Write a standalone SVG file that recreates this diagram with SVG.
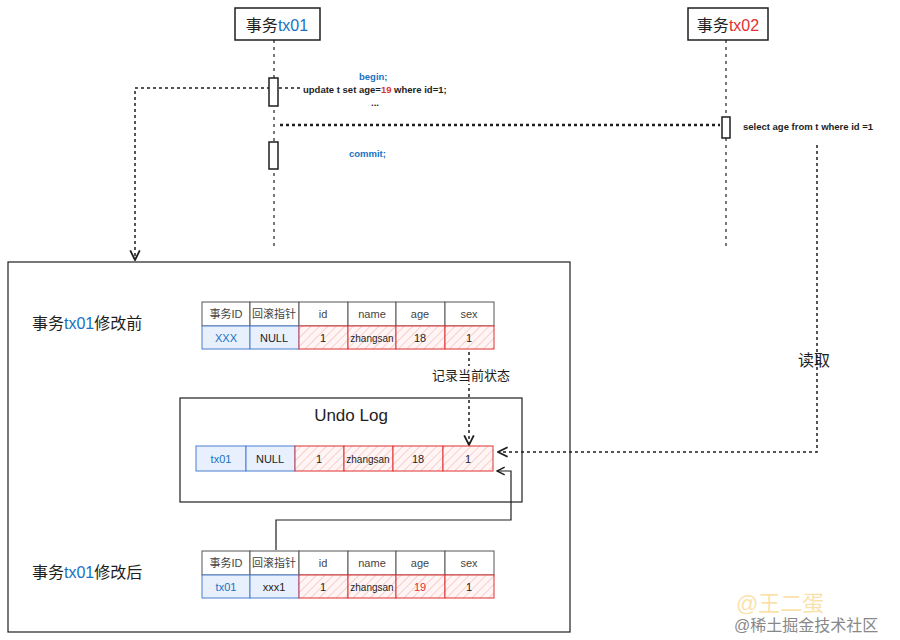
<svg xmlns="http://www.w3.org/2000/svg" width="900" height="640" viewBox="0 0 900 640">
<defs>
<pattern id="hatch" patternUnits="userSpaceOnUse" width="6" height="6" patternTransform="rotate(45)">
<rect width="6" height="6" fill="#fff5f5"/>
<line x1="0" y1="0" x2="0" y2="6" stroke="#f2a7a7" stroke-width="1"/>
</pattern>
<marker id="arr" viewBox="0 0 10 10" refX="9" refY="5" markerWidth="8" markerHeight="8" orient="auto-start-reverse">
<path d="M1,1 L9,5 L1,9" fill="none" stroke="#1e1e1e" stroke-width="1.5"/>
</marker>
</defs>
<style>
text{font-family:"Liberation Sans","Noto Sans CJK SC",sans-serif;fill:#1e1e1e}
.t{font-size:11px;text-anchor:middle}
.z{font-size:10px}
.h{fill:#444}
.hd{fill:#fff;stroke:#555;stroke-width:1}
.bl{fill:#e7f0fc;stroke:#4a7fd0;stroke-width:1}
.rd{fill:url(#hatch);stroke:#e03131;stroke-width:1}
.blue{fill:#1971c2}
.red{fill:#e03131}
.dash{fill:none;stroke:#1e1e1e;stroke-width:1.5;stroke-dasharray:3 3}
.dots{fill:none;stroke:#1e1e1e;stroke-width:2.5;stroke-dasharray:3 3}
.life{fill:none;stroke:#1e1e1e;stroke-width:1.2;stroke-dasharray:3 4}
.box{fill:#fff;stroke:#1e1e1e;stroke-width:1.5}
.lbl{font-size:16px}
.code{font-size:9.5px;font-weight:bold}
</style>

<g id="tx01">
<rect class="box" x="235" y="8" width="85" height="32" stroke-width="2"/>
<text x="277" y="31" font-size="16" text-anchor="middle">事务<tspan class="blue">tx01</tspan></text>
</g>
<g id="tx02">
<rect class="box" x="688" y="8" width="80" height="32" stroke-width="2"/>
<text x="728" y="31" font-size="16" text-anchor="middle">事务<tspan class="red">tx02</tspan></text>
</g>

<g id="connectors">
<path class="life" d="M274,40 V250"/>
<path class="life" d="M726,40 V250"/>
<path class="dash" d="M300,88 H135 V260" marker-end="url(#arr)"/>
<path class="dots" d="M280,125 H720"/>
<path class="dash" d="M817,145 V452 H498" marker-end="url(#arr)"/>
<path class="dash" d="M469,352 V445" marker-end="url(#arr)"/>
<path fill="none" stroke="#1e1e1e" stroke-width="1.2" d="M276,550 V520 H511 V471 H497" marker-end="url(#arr)"/>
</g>

<g id="activations">
<rect class="box" x="269" y="78" width="9" height="28" stroke-width="1.2"/>
<rect class="box" x="269" y="142" width="9" height="27" stroke-width="1.2"/>
<rect class="box" x="722" y="117" width="8" height="21" stroke-width="1.2"/>
</g>

<g id="code">
<text class="code blue" x="359" y="80">begin;</text>
<text class="code" x="303" y="93">update t set  age=<tspan class="red">19</tspan> where id=1;</text>
<text class="code" x="371" y="106">...</text>
<text class="code blue" x="349" y="157">commit;</text>
<text class="code" x="743" y="130">select age from t where id =1</text>
</g>

<g id="mainbox">
<rect x="8" y="262" width="562" height="370" fill="none" stroke="#1e1e1e" stroke-width="1.2"/>
</g>

<g id="readlabel"><text class="lbl" x="798" y="366">读取</text></g>

<g id="before">
<text class="lbl" x="32" y="329">事务<tspan class="blue">tx01</tspan>修改前</text>
<rect class="hd" x="202" y="302" width="48" height="24"/>
<rect class="hd" x="250" y="302" width="49" height="24"/>
<rect class="hd" x="299" y="302" width="49" height="24"/>
<rect class="hd" x="348" y="302" width="48" height="24"/>
<rect class="hd" x="396" y="302" width="49" height="24"/>
<rect class="hd" x="445" y="302" width="49" height="24"/>
<rect class="bl" x="202" y="326" width="48" height="23"/>
<rect class="bl" x="250" y="326" width="49" height="23"/>
<rect class="rd" x="299" y="326" width="49" height="23"/>
<rect class="rd" x="348" y="326" width="48" height="23"/>
<rect class="rd" x="396" y="326" width="49" height="23"/>
<rect class="rd" x="445" y="326" width="49" height="23"/>
<text class="t h" x="226" y="318">事务ID</text>
<text class="t h" x="274" y="318">回滚指针</text>
<text class="t h" x="323" y="318">id</text>
<text class="t h" x="372" y="318">name</text>
<text class="t h" x="420" y="318">age</text>
<text class="t h" x="469" y="318">sex</text>
<text class="t blue" x="226" y="342">XXX</text>
<text class="t" x="274" y="342">NULL</text>
<text class="t" x="323" y="342">1</text>
<text class="t z" x="372" y="342">zhangsan</text>
<text class="t" x="420" y="342">18</text>
<text class="t" x="469" y="342">1</text>
</g>

<g id="recordlabel">
<rect x="430" y="366" width="82" height="18" fill="#fff"/>
<text x="471" y="380" font-size="13" text-anchor="middle">记录当前状态</text>
</g>

<g id="undolog">
<rect x="180" y="398" width="342" height="104" fill="none" stroke="#1e1e1e" stroke-width="1.2"/>
<text x="351" y="421" font-size="17" text-anchor="middle">Undo Log</text>
<rect class="bl" x="196" y="446" width="50" height="25"/>
<rect class="bl" x="246" y="446" width="49" height="25"/>
<rect class="rd" x="295" y="446" width="49" height="25"/>
<rect class="rd" x="344" y="446" width="49" height="25"/>
<rect class="rd" x="393" y="446" width="50" height="25"/>
<rect class="rd" x="443" y="446" width="50" height="25"/>
<text class="t blue" x="221" y="463">tx01</text>
<text class="t" x="270" y="463">NULL</text>
<text class="t" x="319" y="463">1</text>
<text class="t z" x="368" y="463">zhangsan</text>
<text class="t" x="418" y="463">18</text>
<text class="t" x="468" y="463">1</text>
</g>

<g id="after">
<text class="lbl" x="32" y="578">事务<tspan class="blue">tx01</tspan>修改后</text>
<rect class="hd" x="202" y="551" width="48" height="24"/>
<rect class="hd" x="250" y="551" width="49" height="24"/>
<rect class="hd" x="299" y="551" width="49" height="24"/>
<rect class="hd" x="348" y="551" width="48" height="24"/>
<rect class="hd" x="396" y="551" width="49" height="24"/>
<rect class="hd" x="445" y="551" width="49" height="24"/>
<rect class="bl" x="202" y="575" width="48" height="23"/>
<rect class="bl" x="250" y="575" width="49" height="23"/>
<rect class="rd" x="299" y="575" width="49" height="23"/>
<rect class="rd" x="348" y="575" width="48" height="23"/>
<rect class="rd" x="396" y="575" width="49" height="23"/>
<rect class="rd" x="445" y="575" width="49" height="23"/>
<text class="t h" x="226" y="567">事务ID</text>
<text class="t h" x="274" y="567">回滚指针</text>
<text class="t h" x="323" y="567">id</text>
<text class="t h" x="372" y="567">name</text>
<text class="t h" x="420" y="567">age</text>
<text class="t h" x="469" y="567">sex</text>
<text class="t blue" x="226" y="591">tx01</text>
<text class="t" x="274" y="591">xxx1</text>
<text class="t" x="323" y="591">1</text>
<text class="t z" x="372" y="591">zhangsan</text>
<text class="t red" x="420" y="591">19</text>
<text class="t" x="469" y="591">1</text>
</g>

<g id="watermark">
<text x="736" y="611" font-size="22" style="fill:#f6c453;fill-opacity:0.5">@王二蛋</text>
<text x="734" y="631" font-size="16" style="fill:#888">@稀土掘金技术社区</text>
</g>
</svg>
